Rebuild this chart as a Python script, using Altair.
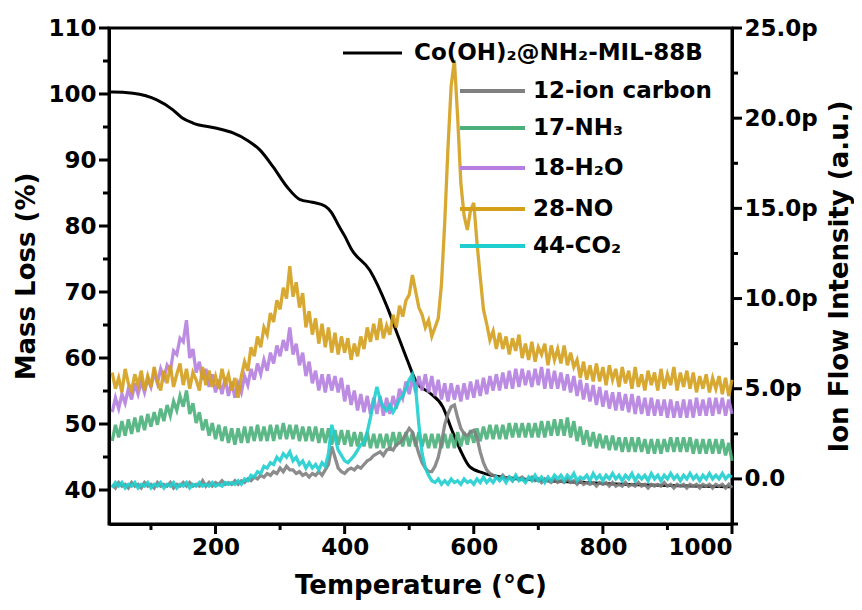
import altair as alt
import pandas as pd

# ---------------- data ----------------
temps = list(range(40, 1001, 5))

carbon = [
    -0.3, -0.5, -0.2, -0.4, -0.3, -0.5, -0.2, -0.4, -0.3, -0.5,
    -0.2, -0.4, -0.3, -0.5, -0.2, -0.4, -0.3, -0.4, -0.2, -0.5,
    -0.3, -0.4, -0.2, -0.4, -0.2, -0.4, -0.3, -0.4, -0.1, -0.4,
    -0.2, -0.4, -0.2, -0.3, -0.1, -0.3, -0.2, -0.3, -0.1, -0.3,
    -0.1, -0.2, 0.0, -0.1, 0.1, 0.0, 0.2, 0.1, 0.3, 0.2,
    0.4, 0.3, 0.6, 0.4, 0.7, 0.5, 0.5, 0.3, 0.4, 0.2,
    0.3, 0.1, 0.3, 0.2, 0.4, 0.2, 0.5, 0.8, 1.8, 1.2,
    0.6, 0.4, 0.3, 0.5, 0.6, 0.5, 0.7, 0.6, 0.8, 1.0,
    1.1, 1.3, 1.4, 1.5, 1.3, 1.6, 1.7, 1.6, 1.9, 2.0,
    2.2, 2.5, 2.8, 2.6, 2.0, 1.4, 0.9, 0.6, 0.4, 0.4,
    0.7, 1.2, 2.0, 3.0, 3.6, 4.0, 4.1, 3.4, 2.8, 2.5,
    2.4, 2.6, 2.7, 2.3, 1.5, 0.9, 0.5, 0.3, 0.2, 0.1,
    0.0, 0.2, 0.0, 0.1, -0.1, 0.1, 0.0, 0.1, -0.1, 0.0,
    0.1, -0.1, 0.0, -0.2, 0.0, -0.1, -0.2, 0.0, -0.2, -0.1,
    -0.2, 0.0, -0.2, -0.1, -0.3, -0.1, -0.3, -0.2, -0.3, -0.2,
    -0.4, -0.2, -0.3, -0.2, -0.4, -0.2, -0.4, -0.3, -0.4, -0.2,
    -0.4, -0.3, -0.4, -0.2, -0.4, -0.3, -0.5, -0.3, -0.4, -0.3,
    -0.4, -0.2, -0.4, -0.3, -0.5, -0.3, -0.4, -0.3, -0.5, -0.3,
    -0.4, -0.3, -0.5, -0.3, -0.4, -0.3, -0.5, -0.3, -0.4, -0.3,
    -0.5, -0.3, -0.5]

nh3 = [
    2.1, 3.0, 2.3, 3.2, 2.4, 3.3, 2.5, 3.4, 2.6, 3.5,
    2.7, 3.6, 2.9, 3.7, 3.0, 3.9, 3.2, 4.1, 3.5, 4.3,
    3.8, 4.6, 4.0, 4.9, 3.6, 4.2, 3.1, 3.7, 2.7, 3.3,
    2.4, 3.1, 2.2, 3.0, 2.1, 2.9, 2.0, 2.8, 1.9, 2.8,
    2.0, 2.9, 2.0, 2.9, 2.1, 3.0, 2.1, 2.9, 2.1, 3.0,
    2.1, 3.0, 2.2, 3.1, 2.2, 3.0, 2.2, 3.0, 2.1, 2.9,
    2.1, 2.9, 2.1, 2.9, 2.0, 2.8, 2.0, 2.8, 1.9, 2.7,
    1.9, 2.7, 1.9, 2.7, 1.8, 2.6, 1.8, 2.6, 1.8, 2.6,
    1.7, 2.5, 1.7, 2.5, 1.7, 2.5, 1.7, 2.6, 1.8, 2.6,
    1.8, 2.6, 1.8, 2.6, 1.8, 2.6, 1.8, 2.5, 1.7, 2.5,
    1.7, 2.5, 1.7, 2.5, 1.7, 2.5, 1.7, 2.6, 1.8, 2.6,
    1.9, 2.7, 2.0, 2.8, 2.1, 2.9, 2.2, 3.0, 2.2, 3.0,
    2.2, 3.0, 2.2, 3.1, 2.3, 3.1, 2.3, 3.1, 2.3, 3.1,
    2.3, 3.1, 2.3, 3.2, 2.3, 3.2, 2.4, 3.3, 2.4, 3.3,
    2.4, 3.4, 2.3, 3.2, 2.1, 2.9, 1.9, 2.7, 1.8, 2.6,
    1.7, 2.5, 1.7, 2.4, 1.6, 2.4, 1.6, 2.3, 1.5, 2.3,
    1.5, 2.3, 1.5, 2.3, 1.5, 2.2, 1.4, 2.2, 1.4, 2.2,
    1.4, 2.2, 1.5, 2.3, 1.5, 2.3, 1.5, 2.3, 1.5, 2.3,
    1.4, 2.2, 1.4, 2.2, 1.4, 2.2, 1.4, 2.2, 1.4, 2.2,
    1.3, 2.0, 1.0]

h2o = [
    3.7, 4.5, 3.9, 4.7, 4.2, 5.0, 4.4, 5.3, 4.7, 5.4,
    4.8, 5.6, 5.1, 5.9, 5.3, 6.1, 5.6, 6.3, 6.0, 7.1,
    6.9, 7.8, 7.6, 8.8, 6.7, 7.2, 5.9, 6.5, 5.5, 6.1,
    5.1, 5.8, 4.8, 5.5, 4.7, 5.6, 4.6, 5.4, 4.5, 5.3,
    4.8, 5.7, 5.2, 6.1, 5.5, 6.4, 5.8, 6.6, 6.0, 7.0,
    6.4, 7.4, 6.8, 7.7, 7.1, 8.4, 6.9, 7.5, 6.3, 7.0,
    5.7, 6.5, 5.3, 6.0, 4.9, 5.8, 4.8, 5.8, 4.9, 5.7,
    4.8, 5.6, 4.3, 5.2, 4.1, 4.9, 3.8, 4.7, 3.7, 4.6,
    3.6, 4.5, 3.6, 4.6, 3.5, 4.5, 3.6, 4.6, 3.9, 5.0,
    4.5, 5.4, 4.7, 5.6, 4.8, 5.7, 4.9, 5.8, 4.8, 5.7,
    4.6, 5.5, 4.4, 5.3, 4.3, 5.3, 4.4, 5.2, 4.3, 5.3,
    4.4, 5.4, 4.5, 5.5, 4.6, 5.6, 4.7, 5.7, 4.9, 5.8,
    4.9, 5.9, 5.0, 6.0, 5.0, 6.1, 5.1, 6.1, 5.2, 6.0,
    5.1, 6.1, 5.2, 6.2, 5.0, 6.1, 5.0, 6.0, 5.0, 5.9,
    4.9, 5.8, 4.8, 5.7, 4.6, 5.5, 4.4, 5.3, 4.3, 5.2,
    4.1, 5.1, 4.0, 4.9, 3.9, 4.8, 3.8, 4.8, 3.8, 4.7,
    3.7, 4.7, 3.6, 4.6, 3.6, 4.5, 3.5, 4.5, 3.5, 4.4,
    3.5, 4.4, 3.4, 4.4, 3.4, 4.3, 3.4, 4.4, 3.4, 4.4,
    3.4, 4.5, 3.5, 4.4, 3.5, 4.5, 3.5, 4.5, 3.6, 4.5,
    3.5, 4.4, 3.6]

no = [
    5.9, 5.0, 5.6, 4.8, 6.1, 5.3, 4.9, 5.8, 5.2, 6.0,
    4.9, 5.7, 5.1, 6.2, 5.4, 4.9, 6.0, 5.3, 6.3, 5.1,
    5.8, 6.4, 5.2, 6.1, 5.0, 5.9, 5.5, 4.9, 6.2, 5.2,
    6.0, 5.1, 5.7, 5.0, 6.1, 5.3, 5.8, 4.9, 5.6, 4.5,
    5.7, 6.5, 6.0, 7.3, 6.8, 7.9, 7.3, 8.4, 8.0, 9.2,
    8.7, 9.9, 9.4, 10.6, 10.0, 11.8, 10.1, 10.9, 9.5, 10.3,
    8.4, 9.3, 8.0, 8.9, 7.5, 8.6, 7.3, 8.4, 7.0, 8.1,
    6.9, 7.9, 7.0, 7.8, 6.6, 7.5, 6.8, 7.9, 7.2, 8.4,
    7.6, 8.6, 7.7, 8.9, 7.8, 8.5, 8.0, 9.1, 8.4, 9.6,
    9.0, 9.9, 10.2, 11.3, 10.4, 9.5, 9.1, 8.4, 8.8, 7.9,
    8.4, 8.9, 10.8, 14.2, 18.3, 21.8, 23.2, 20.1, 16.4, 14.6,
    13.8, 14.9, 15.3, 13.1, 11.2, 9.4, 8.6, 7.7, 8.2, 7.2,
    8.1, 7.2, 7.9, 6.9, 7.8, 7.1, 8.0, 6.7, 7.5, 6.6,
    7.6, 6.5, 7.3, 6.9, 7.5, 6.3, 7.4, 6.6, 7.2, 6.4,
    7.4, 6.3, 7.0, 6.2, 6.6, 5.6, 6.5, 5.5, 6.3, 5.4,
    6.4, 5.4, 6.2, 5.2, 6.3, 5.5, 6.1, 5.1, 6.2, 5.3,
    6.0, 5.0, 6.2, 5.1, 5.8, 4.9, 6.0, 5.2, 5.9, 4.9,
    6.1, 5.0, 5.8, 5.2, 6.2, 4.9, 5.9, 5.1, 6.0, 5.0,
    5.9, 4.8, 5.7, 5.0, 5.8, 4.8, 5.6, 5.0, 5.7, 4.7,
    5.6, 4.6, 5.5]

co2 = [
    -0.5, -0.2, -0.4, -0.2, -0.5, -0.3, -0.4, -0.2, -0.5, -0.3,
    -0.4, -0.2, -0.5, -0.3, -0.4, -0.2, -0.5, -0.3, -0.4, -0.2,
    -0.5, -0.3, -0.4, -0.2, -0.5, -0.3, -0.4, -0.2, -0.4, -0.3,
    -0.4, -0.2, -0.4, -0.3, -0.4, -0.2, -0.3, -0.2, -0.3, -0.1,
    -0.3, 0.0, -0.1, 0.2, 0.1, 0.4, 0.3, 0.7, 0.6, 0.9,
    0.8, 1.2, 1.0, 1.4, 1.2, 1.5, 1.0, 1.2, 0.8, 1.0,
    0.6, 0.9, 0.6, 0.8, 0.5, 0.9, 0.7, 1.4, 3.0, 2.3,
    1.6, 1.3, 1.0, 0.9, 1.1, 1.3, 1.6, 1.9, 2.0, 2.6,
    3.4, 4.3, 5.1, 4.4, 4.0, 3.8, 4.1, 3.7, 4.0, 4.4,
    4.6, 5.0, 5.5, 5.8, 5.0, 3.0, 1.4, 0.6, 0.2, -0.1,
    -0.2, 0.0, -0.3, -0.1, -0.3, 0.0, -0.2, -0.1, -0.3, 0.0,
    -0.2, -0.1, -0.3, 0.0, -0.2, 0.1, -0.2, 0.0, -0.2, 0.1,
    -0.1, 0.1, -0.2, 0.1, -0.1, 0.2, -0.1, 0.0, -0.2, 0.1,
    -0.1, 0.2, -0.1, 0.1, -0.2, 0.1, -0.1, 0.2, 0.0, 0.2,
    -0.1, 0.2, 0.0, 0.3, -0.1, 0.1, 0.0, 0.2, -0.1, 0.3,
    0.0, 0.2, -0.1, 0.2, 0.0, 0.3, 0.0, 0.2, -0.1, 0.2,
    0.0, 0.3, -0.1, 0.2, 0.0, 0.2, -0.1, 0.3, 0.0, 0.2,
    -0.1, 0.2, 0.0, 0.3, 0.0, 0.2, -0.1, 0.2, 0.0, 0.3,
    0.0, 0.2, -0.1, 0.2, 0.0, 0.3, 0.0, 0.2, 0.0, 0.3,
    0.0, 0.2, 0.1]

tg_temp = [35, 41, 72, 109, 134, 148, 165, 202, 227, 249, 269, 289, 311, 331,
           350, 370, 380, 390, 400, 411, 439, 466, 481, 497, 512, 532, 552,
           566, 579, 594, 614, 641, 700, 800, 900, 1000]
tg_mass = [100.3, 100.3, 100.1, 99.1, 97.6, 96.4, 95.6, 94.8, 94.1, 93.0, 91.5,
           89.0, 85.9, 84.0, 83.6, 83.0, 82.0, 80.2, 78.5, 76.4, 73.3, 67.7,
           63.8, 59.7, 56.2, 54.7, 52.6, 49.1, 46.1, 43.5, 42.6, 42.0, 41.5,
           41.0, 40.7, 40.5]

tg_name = "Co(OH)₂@NH₂-MIL-88B"
ms_names = ["12-ion carbon", "17-NH₃", "18-H₂O", "28-NO", "44-CO₂"]
ms_values = [carbon, nh3, h2o, no, co2]
ms_colors = ["#808080", "#4BB07A", "#B57EDF", "#D4A01C", "#1FCECE"]
draw_order = [1, 2, 3, 0, 4]

x_major = [200, 400, 600, 800, 1000]
x_minor = [100, 300, 500, 700, 900]
left_major = [40, 50, 60, 70, 80, 90, 100, 110]
left_minor = [45, 55, 65, 75, 85, 95, 105]
right_major = [0, 5, 10, 15, 20, 25]
right_minor = [-2.5, 2.5, 7.5, 12.5, 17.5, 22.5]

FONT = "DejaVu Sans"
W, H = 623, 496
MAJ, MIN = 10, 6

# ---------------- scales / axes ----------------
x_scale = alt.Scale(domain=[35, 1000], nice=False, zero=False)
x_axis = alt.Axis(title="Temperature (°C)", values=x_major, format="d",
                  ticks=False, tickSize=0, labelPadding=12, titlePadding=13)
left_scale = alt.Scale(domain=[34.85, 110], nice=False, zero=False)
left_axis = alt.Axis(orient="left", title="Mass Loss (%)", values=left_major,
                     ticks=False, tickSize=0, labelPadding=13, titlePadding=8)
right_scale = alt.Scale(domain=[-2.5, 25], nice=False, zero=False)
right_axis = alt.Axis(
    orient="right", title="Ion Flow Intensity (a.u.)", values=right_major,
    labelExpr="datum.value === 0 ? '0.0' : format(datum.value, '.1f') + 'p'",
    ticks=False, tickSize=0, labelPadding=12, titlePadding=9,
    titleAngle=270, titleBaseline="top",
)


def tick_rules(values, field, scale, axis, channel, start, length):
    df = pd.DataFrame({field: values})
    base = alt.Chart(df).mark_rule(color="black", strokeWidth=3)
    if channel == "x":
        return base.encode(x=alt.X(f"{field}:Q", scale=scale, axis=axis),
                           y=alt.value(start), y2=alt.value(start + length))
    return base.encode(y=alt.Y(f"{field}:Q", scale=scale, axis=axis),
                       x=alt.value(start), x2=alt.value(start + length))


# ---------------- left group: TG curve + its ticks ----------------
tg_df = pd.DataFrame({"T": tg_temp, "mass": tg_mass})
tg_layer = alt.Chart(tg_df).mark_line(color="black", strokeWidth=3, interpolate="monotone").encode(
    x=alt.X("T:Q", scale=x_scale, axis=x_axis),
    y=alt.Y("mass:Q", scale=left_scale, axis=left_axis),
)
left_group = alt.layer(
    tg_layer,
    tick_rules(x_major, "T", x_scale, x_axis, "x", H, MAJ),
    tick_rules(x_minor, "T", x_scale, x_axis, "x", H, MIN),
    tick_rules(left_major, "mass", left_scale, left_axis, "y", -MAJ, MAJ),
    tick_rules(left_minor, "mass", left_scale, left_axis, "y", -MIN, MIN),
)

# ---------------- right group: MS curves + right ticks ----------------
ms_layers = []
for i in draw_order:
    df = pd.DataFrame({"T": temps, "v": ms_values[i]})
    ms_layers.append(
        alt.Chart(df).mark_line(color=ms_colors[i], strokeWidth=3.3, opacity=0.9).encode(
            x=alt.X("T:Q", scale=x_scale, axis=x_axis),
            y=alt.Y("v:Q", scale=right_scale, axis=right_axis),
        )
    )
right_group = alt.layer(
    *ms_layers,
    tick_rules(right_major, "v", right_scale, right_axis, "y", W, MAJ),
    tick_rules(right_minor, "v", right_scale, right_axis, "y", W, MIN),
)

# ---------------- hand-drawn legend (layout positions only) ----------------
one = pd.DataFrame({"k": [0]})
leg = []
leg.append(alt.Chart(one).mark_rule(color="black", strokeWidth=3).encode(
    x=alt.value(234), x2=alt.value(293), y=alt.value(25)))
leg.append(alt.Chart(one).mark_text(text=tg_name, align="left", baseline="middle",
                                     font=FONT, fontWeight="bold", fontSize=23, color="black").encode(
    x=alt.value(305), y=alt.value(25)))
rows_y = [63, 100, 140, 181, 218]
for i, yy in enumerate(rows_y):
    leg.append(alt.Chart(one).mark_rule(color=ms_colors[i], strokeWidth=4).encode(
        x=alt.value(351), x2=alt.value(416), y=alt.value(yy)))
    leg.append(alt.Chart(one).mark_text(text=ms_names[i], align="left", baseline="middle",
                                         font=FONT, fontWeight="bold", fontSize=23, color="black").encode(
        x=alt.value(424), y=alt.value(yy)))

chart = alt.layer(left_group, right_group, *leg).resolve_scale(y="independent").properties(
    width=W, height=H,
    autosize=alt.AutoSizeParams(type="none"),
    padding={"left": 101, "top": 20, "right": 122, "bottom": 80},
).configure_view(
    stroke="black", strokeWidth=3
).configure_axis(
    grid=False, domainColor="black", domainWidth=3,
    labelFont=FONT, labelFontWeight="bold", labelFontSize=23, labelColor="black",
    titleFont=FONT, titleFontWeight="bold", titleFontSize=26, titleColor="black",
)

chart.save("out.html", embed_options={"renderer": "svg", "actions": False})
